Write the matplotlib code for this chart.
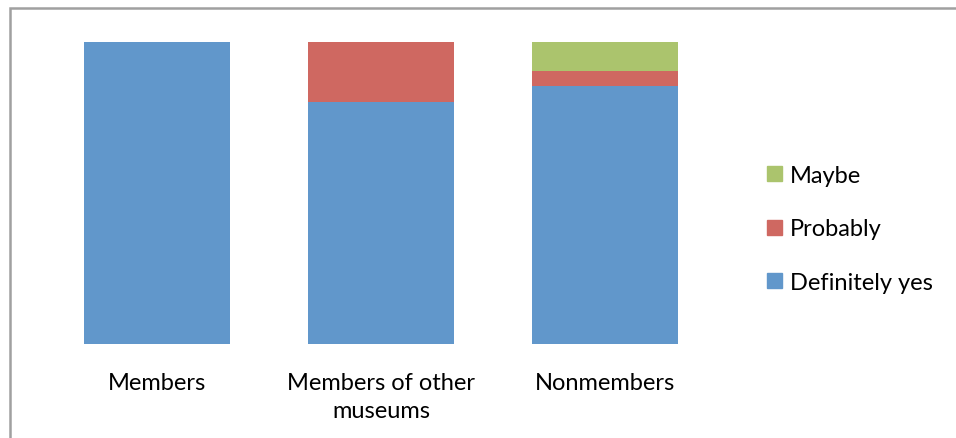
import matplotlib
matplotlib.use("Agg")
import matplotlib.pyplot as plt
from matplotlib.patches import Rectangle, Patch

# Share of responses per group (percent)
groups = ["Members", "Members of other\nmuseums", "Nonmembers"]
definitely_yes = [100.0, 80.0, 85.4]
probably = [0.0, 20.0, 5.0]
maybe = [0.0, 0.0, 9.6]

blue = "#6197CB"
red = "#CF6861"
green = "#ABC46D"

plt.rcParams["font.family"] = ["Lato", "DejaVu Sans"]

fig = plt.figure(figsize=(9.56, 4.39), dpi=100)
W, H = 956, 439

# outer chart frame, cut off on the right and bottom
fig.patches.append(Rectangle((10 / W, -0.1), 1.2, (H - 9) / H + 0.1,
                             transform=fig.transFigure, fill=False,
                             edgecolor="#A0A0A0", linewidth=1.8))

ax = fig.add_axes([45 / W, (H - 345) / H, (717 - 45) / W, (345 - 43) / H])

x = range(len(groups))
width = 0.65
ax.bar(x, definitely_yes, width, color=blue, label="Definitely yes")
ax.bar(x, probably, width, bottom=definitely_yes, color=red, label="Probably")
bottom3 = [a + b for a, b in zip(definitely_yes, probably)]
ax.bar(x, maybe, width, bottom=bottom3, color=green, label="Maybe")

ax.set_xlim(-0.5, 2.5)
ax.set_ylim(0, 100)
ax.set_yticks([])
ax.set_xticks(list(x))
ax.set_xticklabels(groups, fontsize=17, linespacing=1.45)
ax.tick_params(axis="x", length=0, pad=20)
for s in ax.spines.values():
    s.set_visible(False)

handles = [Patch(color=green), Patch(color=red), Patch(color=blue)]
labels = ["Maybe", "Probably", "Definitely yes"]
fig.legend(handles, labels, loc="center left", bbox_to_anchor=(758 / W, (H - 230) / H),
           frameon=False, fontsize=17, handlelength=0.6, handleheight=0.6,
           handletextpad=0.35, labelspacing=1.38, borderaxespad=0)

fig.savefig("out.png", dpi=100)
